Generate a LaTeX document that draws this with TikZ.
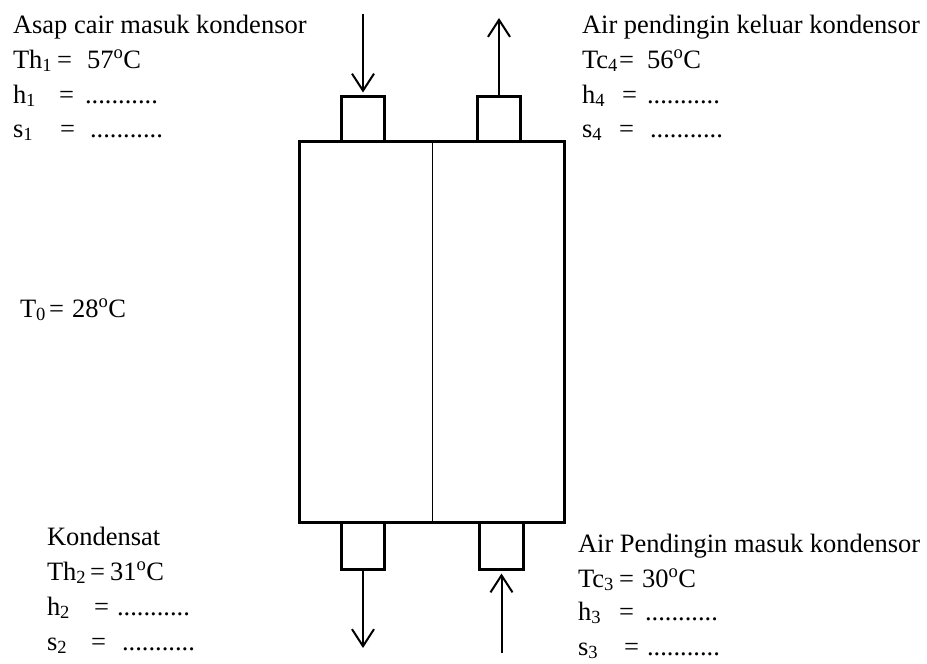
\documentclass[tikz,border=0pt]{standalone}
\usepackage{fontspec}
\setmainfont{Liberation Serif}
\usetikzlibrary{arrows.meta}
\begin{document}
\begin{tikzpicture}[x=1pt,y=1pt,
  txt/.style={anchor=base west,inner sep=0pt,outer sep=0pt,font=\fontsize{26.5}{32}\selectfont},
  nozzle/.style={draw,line width=3pt,inner sep=0pt,outer sep=0pt,minimum width=43pt,minimum height=45pt},
  shell/.style={draw,line width=3pt,inner sep=0pt,outer sep=0pt,minimum width=265pt,minimum height=381pt},
  flow/.style={line width=2pt,-{Straight Barb[length=17pt,width=22pt,line width=2pt]}}]
\useasboundingbox (0,0) rectangle (927,-664);
% nozzles
\node[nozzle] (n1) at (363,-119) {};
\node[nozzle] (n2) at (499,-119) {};
\node[nozzle,minimum height=47pt] (n3) at (363,-546) {};
\node[nozzle,minimum width=44pt,minimum height=47pt] (n4) at (501.5,-546) {};
% shell
\node[shell,fill=white] (box) at (432,-332) {};
\draw[line width=1pt] (box.north) -- (box.south);
% flows
\coordinate (c1) at (363,-14);
\coordinate (c2) at (499,-18);
\coordinate (c3) at (363,-648);
\coordinate (c4) at (501.5,-653);
\draw[flow,shorten >=4pt] (c1) -- (n1.north);
\draw[flow] (n2.north) -- (c2);
\draw[flow] (n3.south) -- (c3);
\draw[flow,shorten >=4pt] (c4) -- (n4.south);
% top-left
\node[txt] (tl1) at (13,-33) {Asap cair masuk kondensor};
\node[txt] (tl2a) at (13,-68) {Th\textsubscript{1}};
\node[txt] (tl2b) at (57,-68) {=};
\node[txt] (tl2c) at (87,-68) {57\textsuperscript{o}C};
\node[txt] (tl3a) at (13,-103) {h\textsubscript{1}};
\node[txt] (tl3b) at (59,-103) {=};
\node[txt] (tl3c) at (85,-103) {...........};
\node[txt] (tl4a) at (13,-137) {s\textsubscript{1}};
\node[txt] (tl4b) at (60,-137) {=};
\node[txt] (tl4c) at (90,-137) {...........};
% top-right
\node[txt] (tr1) at (582,-33) {Air pendingin keluar kondensor};
\node[txt] (tr2a) at (582,-68) {Tc\textsubscript{4}};
\node[txt] (tr2b) at (619,-68) {=};
\node[txt] (tr2c) at (647,-68) {56\textsuperscript{o}C};
\node[txt] (tr3a) at (582,-103) {h\textsubscript{4}};
\node[txt] (tr3b) at (622,-103) {=};
\node[txt] (tr3c) at (647,-103) {...........};
\node[txt] (tr4a) at (582,-137) {s\textsubscript{4}};
\node[txt] (tr4b) at (619,-137) {=};
\node[txt] (tr4c) at (650,-137) {...........};
% ambient
\node[txt] (t0a) at (20,-317) {T\textsubscript{0}};
\node[txt] (t0b) at (49,-317) {=};
\node[txt] (t0c) at (72,-317) {28\textsuperscript{o}C};
% bottom-left
\node[txt] (bl1) at (47,-545) {Kondensat};
\node[txt] (bl2a) at (47,-580) {Th\textsubscript{2}};
\node[txt] (bl2b) at (90,-580) {=};
\node[txt] (bl2c) at (110,-580) {31\textsuperscript{o}C};
\node[txt] (bl3a) at (47,-615) {h\textsubscript{2}};
\node[txt] (bl3b) at (94,-615) {=};
\node[txt] (bl3c) at (117,-615) {...........};
\node[txt] (bl4a) at (47,-650) {s\textsubscript{2}};
\node[txt] (bl4b) at (91,-650) {=};
\node[txt] (bl4c) at (122,-650) {...........};
% bottom-right
\node[txt] (br1) at (578,-552) {Air Pendingin masuk kondensor};
\node[txt] (br2a) at (578,-587) {Tc\textsubscript{3}};
\node[txt] (br2b) at (619,-587) {=};
\node[txt] (br2c) at (642,-587) {30\textsuperscript{o}C};
\node[txt] (br3a) at (578,-620) {h\textsubscript{3}};
\node[txt] (br3b) at (619,-620) {=};
\node[txt] (br3c) at (645,-620) {...........};
\node[txt] (br4a) at (578,-655) {s\textsubscript{3}};
\node[txt] (br4b) at (624,-655) {=};
\node[txt] (br4c) at (647,-655) {...........};
\end{tikzpicture}
\end{document}
